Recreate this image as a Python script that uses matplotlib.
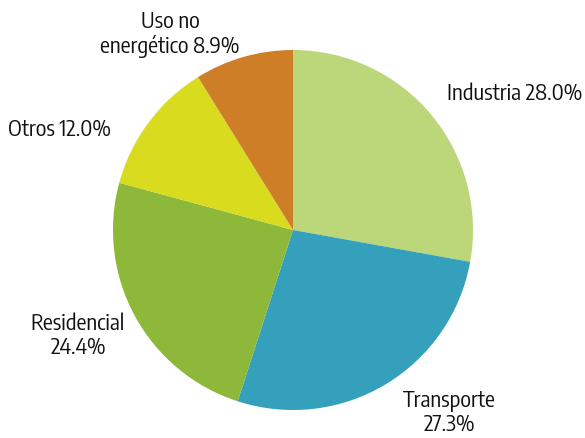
import matplotlib.pyplot as plt

labels = ["Industria", "Transporte", "Residencial", "Otros", "Uso no\nenergético"]
shares = [28.0, 27.3, 24.4, 12.0, 8.9]
colors = ["#BCD67A", "#35A0BC", "#8DB83A", "#D8DB1E", "#CD7E27"]

# label anchor (pixel coords, y from top) and alignment for each slice
label_pos = [(447, 94, "left"), (449, 413, "center"), (78, 336, "center"),
             (8, 130, "left"), (170, 34, "center")]
inline = [True, False, False, True, True]

W, H = 585, 438
fig = plt.figure(figsize=(W / 100, H / 100), dpi=100)
ax = fig.add_axes([0, 0, 1, 1])

ax.pie(shares, colors=colors, startangle=90, counterclock=False,
       center=(293, H - 230), radius=180, frame=True,
       wedgeprops={"linewidth": 0})
ax.set_xlim(0, W)
ax.set_ylim(0, H)
ax.axis("off")

for lab, val, (x, y, ha), one_line in zip(labels, shares, label_pos, inline):
    sep = " " if one_line else "\n"
    ax.text(x, H - y, f"{lab}{sep}{val:.1f}%", ha=ha, va="center",
            fontsize=16, family=["Encode Sans Condensed", "DejaVu Sans"],
            linespacing=1.1, color="#111111")

fig.savefig("out.png", dpi=100)
